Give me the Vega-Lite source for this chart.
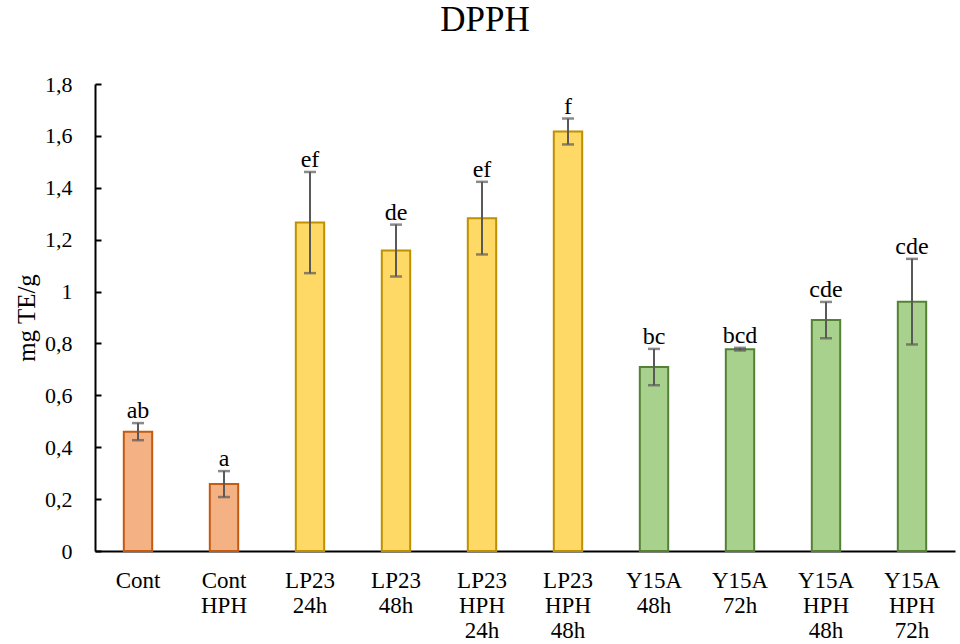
{
  "$schema": "https://vega.github.io/schema/vega-lite/v6.json",
  "width": 860,
  "height": 467,
  "autosize": {"type": "none"},
  "padding": {"left": 95, "top": 84, "right": 5, "bottom": 93},
  "background": "white",
  "title": {"text": "DPPH", "font": "Liberation Serif", "fontSize": 35, "fontWeight": "normal", "color": "#000000", "anchor": "middle", "frame": "group", "dx": -40, "baseline": "alphabetic", "offset": 7},
  "config": {"view": {"stroke": null}},
  "data": {"values": [
    {"name": "Cont", "grp": "Cont", "value": 0.46, "err": 0.033, "label": "ab"},
    {"name": "Cont HPH", "grp": "Cont", "value": 0.258, "err": 0.05, "label": "a"},
    {"name": "LP23 24h", "grp": "LP23", "value": 1.266, "err": 0.195, "label": "ef"},
    {"name": "LP23 48h", "grp": "LP23", "value": 1.158, "err": 0.10, "label": "de"},
    {"name": "LP23 HPH 24h", "grp": "LP23", "value": 1.283, "err": 0.14, "label": "ef"},
    {"name": "LP23 HPH 48h", "grp": "LP23", "value": 1.617, "err": 0.05, "label": "f"},
    {"name": "Y15A 48h", "grp": "Y15A", "value": 0.709, "err": 0.07, "label": "bc"},
    {"name": "Y15A 72h", "grp": "Y15A", "value": 0.778, "err": 0.005, "label": "bcd"},
    {"name": "Y15A HPH 48h", "grp": "Y15A", "value": 0.89, "err": 0.07, "label": "cde"},
    {"name": "Y15A HPH 72h", "grp": "Y15A", "value": 0.961, "err": 0.165, "label": "cde"}
  ]},
  "encoding": {
    "x": {"field": "name", "type": "nominal", "sort": null,
      "scale": {"paddingInner": 0.67, "paddingOuter": 0.335},
      "axis": {"title": null, "labelAngle": 0, "ticks": false, "domainColor": "#000000", "domainWidth": 2,
        "labelFont": "Liberation Serif", "labelFontSize": 23, "labelColor": "#000000", "labelPadding": 29,
        "labelLineHeight": 25, "labelBaseline": "middle", "labelExpr": "split(datum.label, ' ')"}}
  },
  "layer": [
    {
      "mark": {"type": "bar", "strokeWidth": 2},
      "encoding": {
        "y": {"field": "value", "type": "quantitative", "title": "mg TE/g",
          "scale": {"domain": [0, 1.8], "nice": false},
          "axis": {"titleFont": "Liberation Serif", "titleFontSize": 25, "titleFontWeight": "normal", "titleColor": "#000000", "titlePadding": 5,
            "values": [0, 0.2, 0.4, 0.6, 0.8, 1, 1.2, 1.4, 1.6, 1.8],
            "labelExpr": "replace(format(datum.value, '~g'), '.', ',')",
            "labelFont": "Liberation Serif", "labelFontSize": 22, "labelColor": "#000000",
            "grid": false, "domainColor": "#000000", "domainWidth": 2,
            "tickColor": "#000000", "tickWidth": 2, "tickSize": -6, "labelPadding": 29}},
        "fill": {"field": "grp", "type": "nominal", "legend": null,
          "scale": {"domain": ["Cont", "LP23", "Y15A"], "range": ["#F4B183", "#FFD966", "#A9D18E"]}},
        "stroke": {"field": "grp", "type": "nominal", "legend": null,
          "scale": {"domain": ["Cont", "LP23", "Y15A"], "range": ["#C55A11", "#BF9000", "#548235"]}}
      }
    },
    {
      "mark": {"type": "errorbar", "ticks": {"size": 12, "thickness": 2.5, "color": "#595959"}, "rule": {"strokeWidth": 2, "color": "#595959"}},
      "encoding": {
        "y": {"field": "value", "type": "quantitative", "title": "mg TE/g"},
        "yError": {"field": "err"}
      }
    },
    {
      "transform": [{"calculate": "datum.value + datum.err", "as": "top"}],
      "mark": {"type": "text", "font": "Liberation Serif", "fontSize": 24, "color": "#000000", "baseline": "alphabetic", "dy": -5},
      "encoding": {
        "y": {"field": "top", "type": "quantitative", "title": "mg TE/g"},
        "text": {"field": "label"}
      }
    }
  ]
}
